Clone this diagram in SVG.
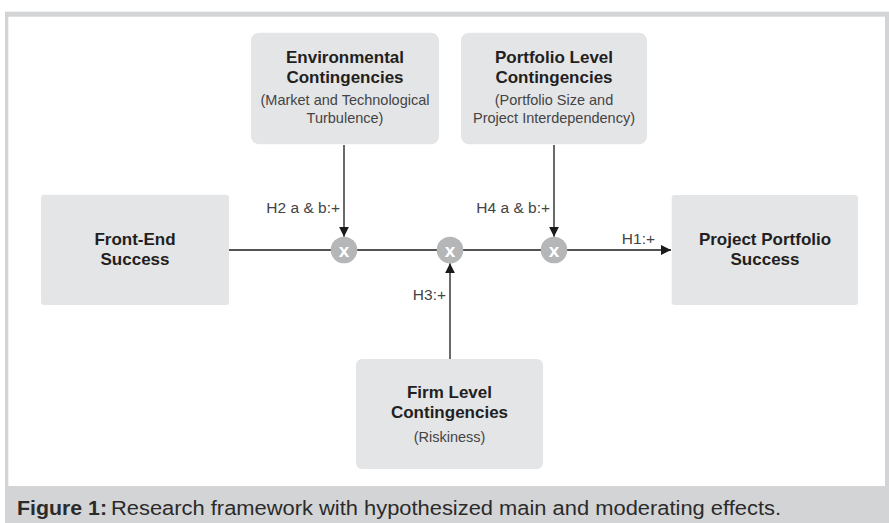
<svg xmlns="http://www.w3.org/2000/svg" width="889" height="523" viewBox="0 0 889 523">
<defs>
<style>
.box{fill:#e4e5e7;}
.t{font-family:"Liberation Sans",Arial,sans-serif;fill:#2b2b2b;text-anchor:middle;}
.b{font-weight:bold;font-size:17px;fill:#231f20;}
.s{font-size:14.5px;fill:#444;}
.lbl{font-family:"Liberation Sans",Arial,sans-serif;font-size:15.5px;fill:#444;text-anchor:end;}
.ln{stroke:#1a1a1a;stroke-width:1.3;fill:none;}
.c{fill:#b5b6b8;}
.x{font-family:"Liberation Sans",Arial,sans-serif;font-weight:bold;font-size:19px;fill:#fff;text-anchor:middle;}
.cap{font-family:"Liberation Sans",Arial,sans-serif;font-size:20px;fill:#2b2b2b;}
</style>
<marker id="ah" viewBox="0 0 10 10" refX="10" refY="5" markerWidth="10" markerHeight="10" markerUnits="userSpaceOnUse" orient="auto">
<path d="M0,0 L10,5 L0,10 z" fill="#1a1a1a"/>
</marker>
</defs>
<rect x="0" y="0" width="889" height="523" fill="#fff"/>
<rect x="5" y="11.7" width="884" height="511.3" fill="#d3d4d6"/>
<rect x="8.3" y="16.7" width="876.7" height="469.3" fill="#fff"/>
<text class="cap" x="17" y="515" font-weight="bold" fill="#231f20" textLength="90" lengthAdjust="spacingAndGlyphs">Figure 1:</text>
<text class="cap" x="111" y="515" textLength="670" lengthAdjust="spacingAndGlyphs">Research framework with hypothesized main and moderating effects.</text>

<g id="connectors">
<line class="ln" x1="229" y1="250" x2="671" y2="250" marker-end="url(#ah)"/>
<line class="ln" x1="344" y1="145" x2="344" y2="236.7" marker-end="url(#ah)"/>
<line class="ln" x1="554" y1="145" x2="554" y2="236.7" marker-end="url(#ah)"/>
<line class="ln" x1="450" y1="359" x2="450" y2="263.3" marker-end="url(#ah)"/>
<text class="lbl" x="340" y="213">H2 a &amp; b:+</text>
<text class="lbl" x="550" y="213">H4 a &amp; b:+</text>
<text class="lbl" x="446" y="300">H3:+</text>
<text class="lbl" x="655" y="244">H1:+</text>
</g>

<g id="m1"><circle class="c" cx="344" cy="250" r="13.3"/><text class="x" x="344" y="256.5">x</text></g>
<g id="m2"><circle class="c" cx="450" cy="250" r="13.3"/><text class="x" x="450" y="256.5">x</text></g>
<g id="m3"><circle class="c" cx="554" cy="250" r="13.3"/><text class="x" x="554" y="256.5">x</text></g>

<g id="env">
<rect class="box" x="251" y="32.7" width="188" height="111.6" rx="8"/>
<text class="t b" x="345" y="63">Environmental</text>
<text class="t b" x="345" y="83">Contingencies</text>
<text class="t s" x="345" y="105">(Market and Technological</text>
<text class="t s" x="345" y="123">Turbulence)</text>
</g>
<g id="portfolio">
<rect class="box" x="461" y="32.7" width="186" height="111.6" rx="8"/>
<text class="t b" x="554" y="63">Portfolio Level</text>
<text class="t b" x="554" y="83">Contingencies</text>
<text class="t s" x="554" y="105">(Portfolio Size and</text>
<text class="t s" x="554" y="123">Project Interdependency)</text>
</g>
<g id="frontend">
<rect class="box" x="41" y="194.7" width="188" height="110.3" rx="3"/>
<text class="t b" x="135" y="245">Front-End</text>
<text class="t b" x="135" y="265">Success</text>
</g>
<g id="pps">
<rect class="box" x="671.7" y="195" width="186.3" height="110" rx="3"/>
<text class="t b" x="765" y="245">Project Portfolio</text>
<text class="t b" x="765" y="265">Success</text>
</g>
<g id="firm">
<rect class="box" x="356" y="359" width="187" height="110" rx="6"/>
<text class="t b" x="449.5" y="398">Firm Level</text>
<text class="t b" x="449.5" y="418">Contingencies</text>
<text class="t s" x="449.5" y="442">(Riskiness)</text>
</g>
</svg>
